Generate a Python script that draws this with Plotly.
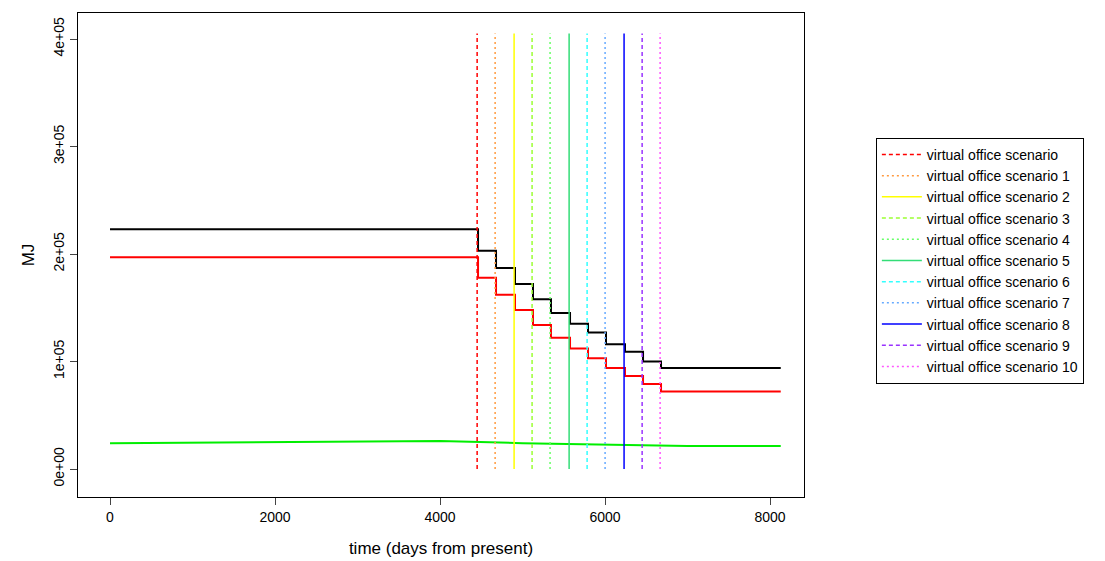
import plotly.graph_objects as go

# step breakpoints (days) and levels (MJ)
step_days = [0, 4461, 4679, 4909, 5127, 5345, 5576, 5794, 6012, 6242, 6461, 6679, 8130]
total_mj = [223000, 203000, 187000, 172000, 158000, 145000, 135000, 127000, 116000, 109000, 100000, 94000, 94000]
red_mj = [197000, 178000, 162000, 148000, 134000, 122000, 112000, 103000, 94000, 86500, 79000, 72000, 72000]
green_days = [0, 2000, 4000, 5000, 6000, 7000, 8130]
green_mj = [24000, 25000, 26000, 24000, 22500, 21500, 21500]

scenario_days = [4450, 4668, 4898, 5116, 5334, 5565, 5783, 6001, 6231, 6450, 6668]
scenario_names = ["virtual office scenario"] + [f"virtual office scenario {i}" for i in range(1, 11)]
scenario_colors = ["#FF0000", "#FF9A40", "#FFFF00", "#9CFF33", "#66FF66", "#33DD77",
                   "#33FFFF", "#66AAFF", "#0000FF", "#9933FF", "#FF55FF"]
dashes = ["4px,3px", "2px,3px", "solid"]

fig = go.Figure()
fig.add_trace(go.Scatter(x=step_days, y=total_mj, mode="lines", line=dict(color="black", width=2, shape="hv"),
                         showlegend=False))
fig.add_trace(go.Scatter(x=step_days, y=red_mj, mode="lines", line=dict(color="red", width=2, shape="hv"),
                         showlegend=False))
fig.add_trace(go.Scatter(x=green_days, y=green_mj, mode="lines", line=dict(color="#00EE00", width=2),
                         showlegend=False))

for i, (d, name, col) in enumerate(zip(scenario_days, scenario_names, scenario_colors)):
    fig.add_trace(go.Scatter(x=[d, d], y=[0, 405000], mode="lines", name=name,
                             line=dict(color=col, width=1.5, dash=dashes[i % 3])))

fig.update_layout(
    width=1097, height=553,
    margin=dict(l=70, r=301, t=5, b=64, autoexpand=False),
    plot_bgcolor="white", paper_bgcolor="white",
    font=dict(family="Liberation Sans, Arial", size=14, color="black"),
    showlegend=True,
    legend=dict(x=1.099, y=0.742, xanchor="left", yanchor="top", bordercolor="black", borderwidth=1,
                font=dict(size=14), tracegroupgap=0, itemwidth=40),
)
fig.update_xaxes(range=[-388, 8412], tickvals=[0, 2000, 4000, 6000, 8000], ticks="outside", ticklen=7,
                 showgrid=False, zeroline=False, showline=True, linecolor="black", mirror=True,
                 automargin=False, title=dict(text="time (days from present)", standoff=18))
fig.update_yaxes(range=[-26047, 424186], tickvals=[0, 100000, 200000, 300000, 400000],
                 ticktext=["0e+00", "1e+05", "2e+05", "3e+05", "4e+05"], tickangle=-90,
                 ticks="outside", ticklen=7, showgrid=False, zeroline=False, showline=True,
                 linecolor="black", mirror=True, automargin=False, title=dict(text="MJ", standoff=12))

fig.write_html("out.html")
